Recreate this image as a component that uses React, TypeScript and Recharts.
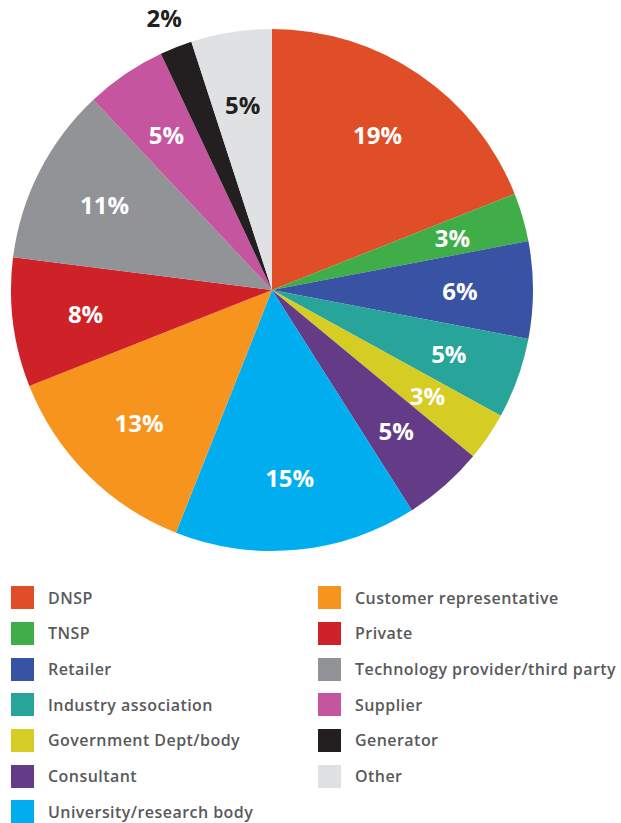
import { PieChart, Pie, Cell } from "recharts";

const categories = [
  "DNSP",
  "TNSP",
  "Retailer",
  "Industry association",
  "Government Dept/body",
  "Consultant",
  "University/research body",
  "Customer representative",
  "Private",
  "Technology provider/third party",
  "Supplier",
  "Generator",
  "Other",
];
const shares = [19, 3, 6, 5, 3, 5, 15, 13, 8, 11, 5, 2, 5];
const colors = [
  "#e04e27", // DNSP
  "#3fae49", // TNSP
  "#3953a4", // Retailer
  "#27a59b", // Industry association
  "#d5cd24", // Government
  "#643b86", // Consultant
  "#00aeef", // University
  "#f7941d", // Customer rep
  "#cf2128", // Private
  "#929396", // Technology
  "#c655a0", // Supplier
  "#231f20", // Generator
  "#e0e1e3", // Other
];
// labels drawn outside the pie / in dark text
const outsideLabels = ["Generator"];
const darkLabels = ["Generator", "Other"];

const data = categories.map((name, i) => ({ name, value: shares[i] }));

const RAD = Math.PI / 180;

const renderLabel = (props: any) => {
  const { cx, cy, midAngle, outerRadius, index, value } = props;
  const name = categories[index];
  const r = outsideLabels.includes(name) ? outerRadius + 32 : outerRadius * 0.72;
  const x = cx + r * Math.cos(-midAngle * RAD);
  const y = cy + r * Math.sin(-midAngle * RAD);
  return (
    <text
      x={x}
      y={y}
      fill={darkLabels.includes(name) ? "#231f20" : "#ffffff"}
      textAnchor="middle"
      dominantBaseline="central"
      fontFamily="'Open Sans', sans-serif"
      fontWeight={700}
      fontSize={24}
    >
      {value}%
    </text>
  );
};

const leftCol = data.slice(0, 7);
const rightCol = data.slice(7);

const LegendItem = ({ name, color }: { name: string; color: string }) => (
  <div style={{ display: "flex", alignItems: "center", height: 35.67 }}>
    <div style={{ width: 23, height: 23, background: color, flexShrink: 0 }} />
    <span
      style={{
        marginLeft: 14,
        fontFamily: "'Open Sans', sans-serif",
        fontWeight: 600,
        fontSize: 16,
        letterSpacing: 0.45,
        color: "#58595b",
        whiteSpace: "nowrap",
      }}
    >
      {name}
    </span>
  </div>
);

export default function App() {
  return (
    <div style={{ position: "absolute", left: 0, top: 0, width: 621, height: 823, background: "#fff" }}>
      <PieChart width={621} height={570} margin={{ top: 0, right: 0, bottom: 0, left: 0 }}>
        <Pie
          data={data}
          dataKey="value"
          cx={272}
          cy={290}
          outerRadius={261}
          startAngle={90}
          endAngle={-270}
          stroke="none"
          labelLine={false}
          label={renderLabel}
          isAnimationActive={false}
        >
          {data.map((entry, i) => (
            <Cell key={`cell-${i}`} fill={colors[i]} />
          ))}
        </Pie>
      </PieChart>
      <div style={{ position: "absolute", left: 11, top: 580 }}>
        {leftCol.map((d, i) => (
          <LegendItem key={d.name} name={d.name} color={colors[i]} />
        ))}
      </div>
      <div style={{ position: "absolute", left: 318, top: 580 }}>
        {rightCol.map((d, i) => (
          <LegendItem key={d.name} name={d.name} color={colors[i + 7]} />
        ))}
      </div>
    </div>
  );
}
